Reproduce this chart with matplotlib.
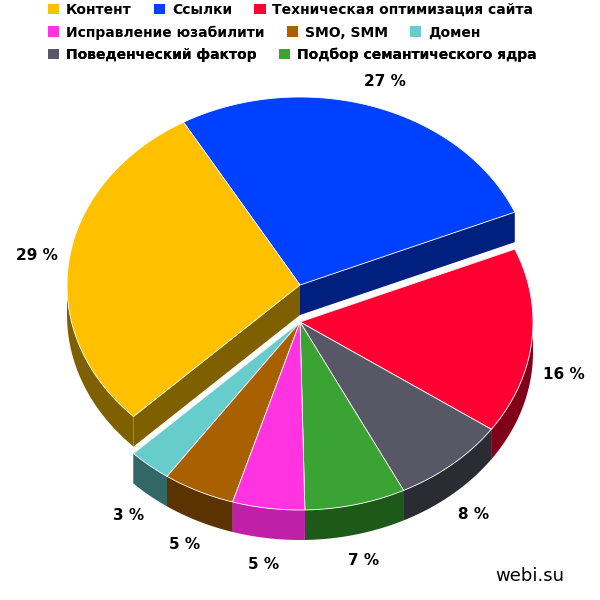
import numpy as np
import matplotlib.pyplot as plt
from matplotlib.patches import Polygon, Patch

labels = ['Ссылки', 'Техническая оптимизация сайта', 'Поведенческий фактор',
          'Подбор семантического ядра', 'Исправление юзабилити', 'SMO, SMM',
          'Домен', 'Контент']
values = [27, 16, 8, 7, 5, 5, 3, 29]
top_colors = ['#0040FF', '#FF0033', '#575766', '#3AA334', '#FF33E0', '#A86000', '#66CCCC', '#FFC000']
side_colors = ['#00207F', '#80001A', '#2B2B33', '#1D5A1A', '#C020A8', '#5A3300', '#336666', '#7F6000']
lifted = [True, False, False, False, False, False, False, True]

cx, cy, rx, ry, depth = 300, 322, 233, 188, 30
lift = 37
start = 120.0

fig = plt.figure(figsize=(6, 6), dpi=100)
ax = fig.add_axes([0, 0, 1, 1])
ax.set_xlim(0, 600)
ax.set_ylim(600, 0)
ax.axis('off')

def pt(t, ox, oy, dz=0):
    r = np.radians(t)
    return (ox + rx * np.cos(r), oy - ry * np.sin(r) + dz)

slices = []
a = start
for i, v in enumerate(values):
    b = a - v * 3.6
    slices.append((i, a, b))
    a = b

# back to front
order = sorted(slices, key=lambda s: -np.sin(np.radians((s[1] + s[2]) / 2)) - (0.5 if lifted[s[0]] else 0))
for i, a, b in order:
    ox, oy = cx, cy - (lift if lifted[i] else 0)
    c0 = (ox, oy)
    for t in (a, b):
        p = pt(t, ox, oy)
        ax.add_patch(Polygon([c0, p, (p[0], p[1] + depth), (ox, oy + depth)],
                             closed=True, fc=side_colors[i], ec='none'))
    ts = np.linspace(b, a, 200)
    ts = ts[np.sin(np.radians(ts)) < 0.02]
    if len(ts) > 1:
        upper = [pt(t, ox, oy) for t in ts]
        lower = [pt(t, ox, oy, depth) for t in ts[::-1]]
        ax.add_patch(Polygon(upper + lower, closed=True, fc=side_colors[i], ec='none'))
    ts = np.linspace(a, b, 200)
    ax.add_patch(Polygon([c0] + [pt(t, ox, oy) for t in ts], closed=True,
                         fc=top_colors[i], ec='white', lw=0.6))

for i, a, b in slices:
    m = np.radians((a + b) / 2)
    oy = cy - (lift if lifted[i] else 0)
    x = cx + rx * 1.14 * np.cos(m)
    y = oy - ry * 1.14 * np.sin(m)
    if np.sin(m) < 0:
        y += depth
    ax.text(x, y, f'{values[i]} %', ha='center', va='center', fontsize=11, fontweight='bold')

legend_rows = [[7, 0, 1], [4, 5, 6], [2, 3]]
for r, row in enumerate(legend_rows):
    handles = [Patch(fc=top_colors[k], ec='none', label=labels[k]) for k in row]
    leg = ax.legend(handles=handles, ncol=len(row), loc='upper left',
                    bbox_to_anchor=(0.08, 0.995 - r * 0.037), frameon=False,
                    prop={'weight': 'bold', 'size': 10}, handlelength=0.8,
                    handleheight=0.8, handletextpad=0.5, columnspacing=1.6,
                    borderaxespad=0, borderpad=0)
    ax.add_artist(leg)

ax.text(530, 576, 'webi.su', ha='center', va='center', fontsize=13)

fig.savefig('out.png')
